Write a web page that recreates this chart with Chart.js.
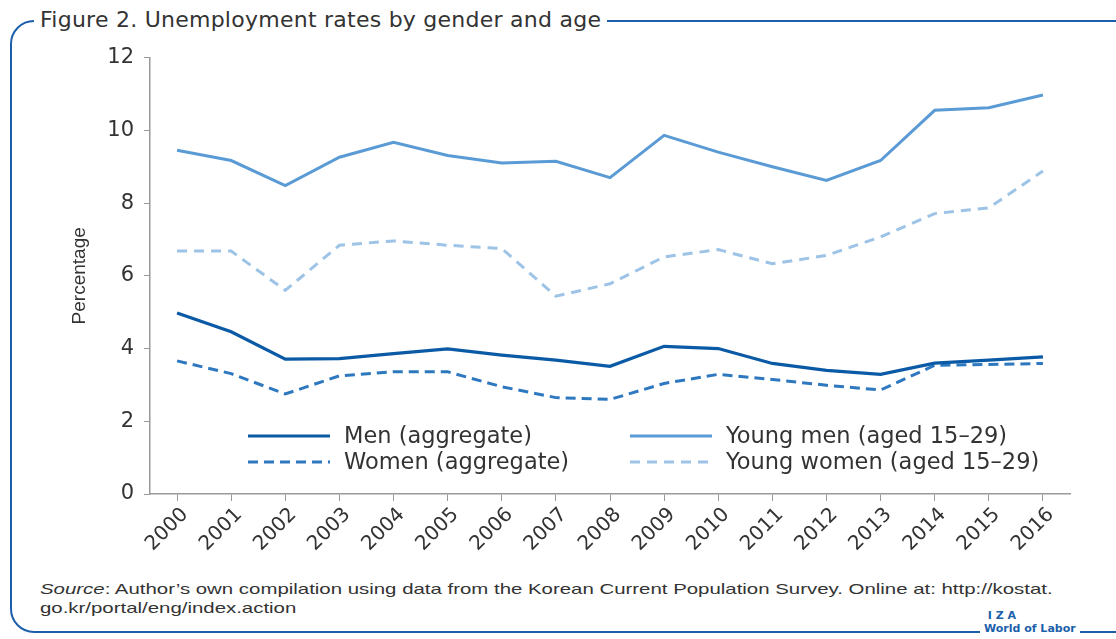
<!DOCTYPE html>
<html>
<head>
<meta charset="utf-8">
<script src="https://cdn.jsdelivr.net/npm/chart.js@4.4.1/dist/chart.umd.min.js"></script>
<style>
  body { margin: 0; background: #fff; }
  #page { position: relative; width: 1116px; height: 639px; overflow: hidden; background: #fff; }
  #frame {
    position: absolute; left: 10px; top: 20px; width: 1140px; height: 609px;
    border: 2.5px solid #1b5faa; border-radius: 24px;
  }
  #title {
    position: absolute; left: 34px; top: 7px; padding: 0 6px; background: #fff;
    font: 22px "DejaVu Sans", sans-serif; color: #333; white-space: nowrap;
    letter-spacing: 0.25px;
  }
  #chartBox { position: absolute; left: 0; top: 35px; width: 1116px; height: 535px; }
  #source {
    position: absolute; left: 40px; top: 579px; width: 780px;
    font: 15px "Liberation Sans", Arial, sans-serif; line-height: 19px; color: #333;
    transform: scaleX(1.36); transform-origin: left top; white-space: nowrap;
  }
  #logo {
    position: absolute; left: 980px; top: 609px; padding: 0 4px; background: #fff;
    font: bold 11px "DejaVu Sans", sans-serif; color: #1b5faa; line-height: 13px;
  }
</style>
</head>
<body>
<div id="page">
  <div id="frame"></div>
  <div id="title">Figure 2. Unemployment rates by gender and age</div>
  <div id="chartBox"><canvas id="unempChart"></canvas></div>
  <div id="source"><i>Source</i>: Author’s own compilation using data from the Korean Current Population Survey. Online at: http://kostat.<br>go.kr/portal/eng/index.action</div>
  <div id="logo">&nbsp;I&nbsp;Z&nbsp;A<br>World of Labor</div>
</div>
<script>
// Years on the x axis
const years = ['2000', '2001', '2002', '2003', '2004', '2005', '2006', '2007', '2008',
    '2009', '2010', '2011', '2012', '2013', '2014', '2015', '2016'];

// Unemployment rates (%)
const menAggregate = [4.98, 4.46, 3.71, 3.72, 3.86, 3.99, 3.82, 3.68, 3.51,
    4.06, 4.00, 3.59, 3.40, 3.29, 3.60, 3.68, 3.77];
const womenAggregate = [3.66, 3.31, 2.75, 3.25, 3.36, 3.36, 2.95, 2.65, 2.60,
    3.04, 3.29, 3.15, 2.99, 2.86, 3.54, 3.56, 3.59];
const youngMen = [9.45, 9.17, 8.48, 9.26, 9.67, 9.31, 9.10, 9.15, 8.70,
    9.86, 9.40, 9.00, 8.62, 9.17, 10.55, 10.62, 10.97];
const youngWomen = [6.68, 6.68, 5.60, 6.84, 6.96, 6.84, 6.75, 5.44, 5.78,
    6.52, 6.72, 6.33, 6.56, 7.07, 7.71, 7.87, 8.88];

// Y axis range
const yMin = 0;
const yMax = 12;
const yStep = 2;

const textColor = '#333';
const axisColor = '#9a9a9a';

// Legend drawn inside the plot, two columns
const insideLegend = {
    id: 'insideLegend',
    afterDraw(chart) {
        const ctx = chart.ctx;
        const ds = chart.data.datasets;
        const spots = [
            { i: 0, x: 248, y: 401 },
            { i: 1, x: 248, y: 427 },
            { i: 2, x: 630, y: 401 },
            { i: 3, x: 630, y: 427 }
        ];
        ctx.save();
        spots.forEach(s => {
            const d = ds[s.i];
            ctx.beginPath();
            ctx.strokeStyle = d.borderColor;
            ctx.lineWidth = d.borderWidth;
            ctx.setLineDash(d.borderDash || []);
            ctx.moveTo(s.x, s.y);
            ctx.lineTo(s.x + 82, s.y);
            ctx.stroke();
            ctx.setLineDash([]);
            ctx.fillStyle = textColor;
            ctx.font = '22.5px "DejaVu Sans", sans-serif';
            ctx.textBaseline = 'middle';
            ctx.fillText(d.label, s.x + 96, s.y + 1);
        });
        ctx.restore();
    }
};

function createChart() {
    const ctx = document.getElementById('unempChart').getContext('2d');

    new Chart(ctx, {
        type: 'line',
        data: {
            labels: years,
            datasets: [
                {
                    label: 'Men (aggregate)',
                    data: menAggregate,
                    borderColor: '#0b5aa6',
                    borderWidth: 3.2,
                    pointRadius: 0,
                    tension: 0
                },
                {
                    label: 'Women (aggregate)',
                    data: womenAggregate,
                    borderColor: '#2e78c0',
                    borderWidth: 3,
                    borderDash: [10, 6],
                    pointRadius: 0,
                    tension: 0
                },
                {
                    label: 'Young men (aged 15–29)',
                    data: youngMen,
                    borderColor: '#5b9bd5',
                    borderWidth: 3,
                    pointRadius: 0,
                    tension: 0
                },
                {
                    label: 'Young women (aged 15–29)',
                    data: youngWomen,
                    borderColor: '#9dc3e6',
                    borderWidth: 3,
                    borderDash: [10, 7],
                    pointRadius: 0,
                    tension: 0
                }
            ]
        },
        options: {
            responsive: true,
            maintainAspectRatio: false,
            animation: false,
            layout: {
                padding: { left: 68, right: 46, top: 12, bottom: 0 }
            },
            plugins: {
                legend: { display: false },
                tooltip: { enabled: false }
            },
            scales: {
                x: {
                    offset: true,
                    afterFit: scale => { scale.height = 76; },
                    grid: {
                        offset: false,
                        drawOnChartArea: false,
                        tickLength: 7,
                        color: axisColor
                    },
                    border: { color: axisColor, width: 1.5 },
                    ticks: {
                        maxRotation: 45,
                        minRotation: 45,
                        labelOffset: 8,
                        padding: 2,
                        color: textColor,
                        font: { family: 'DejaVu Sans', size: 20 }
                    }
                },
                y: {
                    min: yMin,
                    max: yMax,
                    afterFit: scale => { scale.width = 82; },
                    grid: {
                        drawOnChartArea: false,
                        tickLength: 6,
                        color: axisColor
                    },
                    border: { color: axisColor, width: 1.5 },
                    ticks: {
                        stepSize: yStep,
                        padding: 10,
                        color: textColor,
                        font: { family: 'DejaVu Sans', size: 21 }
                    },
                    title: {
                        display: true,
                        text: 'Percentage',
                        color: textColor,
                        padding: { top: 0, bottom: 0 },
                        font: { family: 'Liberation Sans', size: 19 }
                    }
                }
            }
        },
        plugins: [insideLegend]
    });
}

createChart();
</script>
</body>
</html>
